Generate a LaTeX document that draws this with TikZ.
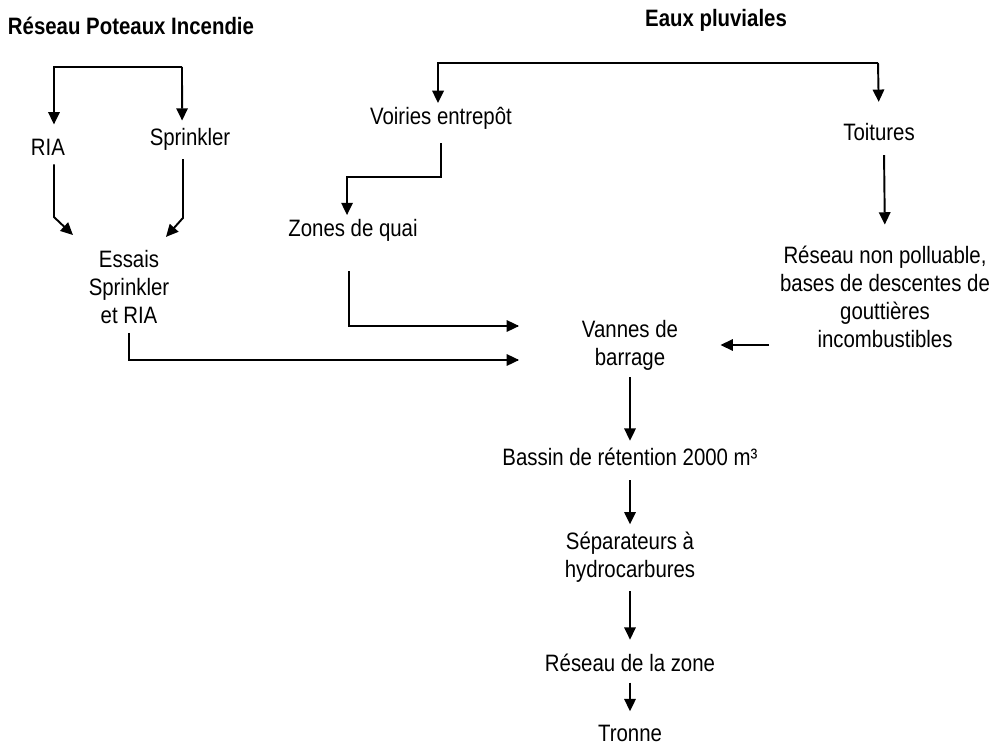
\documentclass[tikz,border=0pt]{standalone}
\usepackage{fontspec}
\setmainfont{Liberation Sans}[FakeStretch=0.86]
\usetikzlibrary{arrows.meta, positioning}

\tikzset{
  flow/.style = {-{Triangle[length=7pt, width=6.5pt]}, line width=1.1pt},
  txt/.style = {align=center, inner sep=2pt},
  titre/.style = {font=\fontsize{13.5}{16}\selectfont\bfseries, inner sep=0pt}
}

\begin{document}
\begin{tikzpicture} [x=0.02cm, y=-0.02cm, node distance=2cm, on grid, font=\fontsize{13.5}{16}\selectfont]
			\useasboundingbox (0,0) rectangle (989,746);
			% Titles
			\node (titreP) [titre] at (131,26) {Réseau Poteaux Incendie};
			\node (titreE) [titre] at (716,20) {Eaux pluviales};

			% Poteaux incendie branch
			\node (ria) [txt] at (48,147) {RIA};
			\node (sprink) [txt] at (190,139) {Sprinkler};
			\node (essais) [txt] at (129,287) {Essais\\Sprinkler\\et RIA};

			% Eaux pluviales branch
			\node (voiries) [txt] at (441,118) {Voiries entrepôt};
			\node (quai) [txt] at (353,230) {Zones de quai};
			\node (toit) [txt] at (879,132) {Toitures};
			\node (reseau) [txt] at (885,297) {Réseau non polluable,\\bases de descentes de\\gouttières\\incombustibles};

			% Middle chain : every node is measured from vannes
			\node (vannes) [txt] at (630,345) {Vannes de\\barrage};
			\node (bassin) [txt, below = 2.24cm of vannes] {Bassin de rétention 2000 m³};
			\node (separ) [txt, below = 2cm of bassin] {Séparateurs à\\hydrocarbures};
			\node (zone) [txt, below = 2.12cm of separ] {Réseau de la zone};
			\node (tronne) [txt, below = 1.42cm of zone] {Tronne};

			% Split points
			\coordinate (feedP) at (182,67);
			\coordinate (feedE) at (878,63);
			\coordinate (inQ) at (518,326);
			\coordinate (inE) at (518,360);

			% Draw Arrows/Connections
			\draw [flow, shorten >=6pt] (feedP) -| ([xshift=3.4pt]ria.north);
			\draw [flow, shorten >=2pt] (feedP) -- ([xshift=-4.5pt]sprink.north);
			\draw [flow, shorten <=3pt] ([xshift=3.4pt]ria.south) -- ++(0,58) -- ++(19,18);
			\draw [flow, shorten <=3pt] ([xshift=-4pt]sprink.south) -- ++(0,64) -- ++(-17,19);
			\draw [line width=1.1pt, shorten <=3pt] (essais.south) |- (inE);
			\draw [flow] (inE) -- ++(1,0);

			\draw [flow] (feedE) -| ([xshift=-1.7pt]voiries.north);
			\draw [flow, shorten >=10pt] (feedE) -- (toit.north);
			\draw [flow, shorten <=6pt] (voiries.south) -- ++(0,44) -| ([xshift=-3.4pt]quai.north);
			\draw [line width=1.1pt, shorten <=15pt] ([xshift=-2.3pt]quai.south) |- (inQ);
			\draw [flow] (inQ) -- ++(1,0);
			\draw [flow, shorten <=6pt, shorten >=10pt] ([xshift=2.8pt]toit.south) -- (reseau.north);
			\draw [flow, shorten <=4pt, shorten >=22pt] (reseau.west |- vannes) -- (vannes.east);

			\path [flow]
			(vannes) edge [shorten <=2pt, shorten >=2pt] (bassin)
			(bassin) edge [shorten <=6pt, shorten >=2pt] (separ)
			(separ) edge [shorten <=3pt, shorten >=6pt] (zone)
			(zone) edge [shorten <=4pt, shorten >=6pt] (tronne);
		\end{tikzpicture}
\end{document}
